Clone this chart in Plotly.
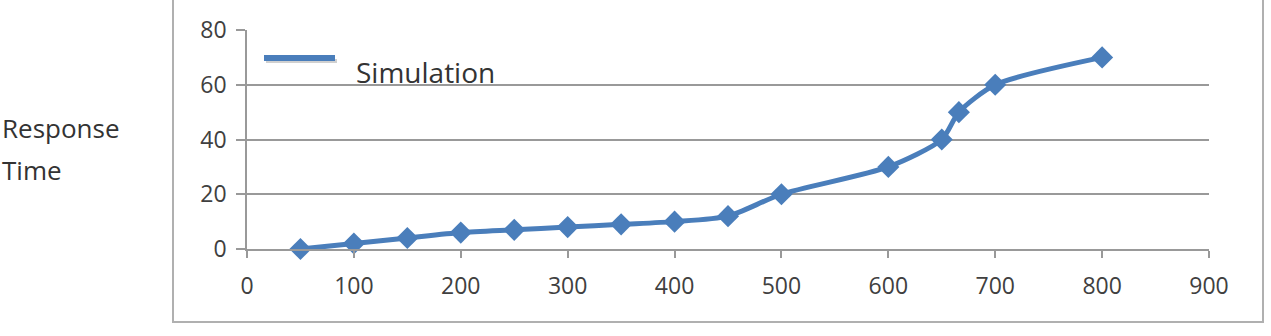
import plotly.graph_objects as go

# Data
load = [50, 100, 150, 200, 250, 300, 350, 400, 450, 500, 600, 650, 666, 700, 800]
response_time = [0, 2, 4, 6, 7, 8, 9, 10, 12, 20, 30, 40, 50, 60, 70]
series_name = "Simulation"
x_ticks = [0, 100, 200, 300, 400, 500, 600, 700, 800, 900]
y_ticks = [0, 20, 40, 60, 80]

BLUE = "#4a7ebb"
GRID = "#999999"
FONT = "Open Sans"

W, H = 1271, 336
L, R, T, B = 247, 62, 30, 87
pw, ph = W - L - R, H - T - B

def px(x):
    return (x - L) / pw

def py(y):
    return (H - B - y) / ph

fig = go.Figure()
fig.add_trace(go.Scatter(
    x=load, y=response_time, name=series_name,
    mode="lines+markers",
    line=dict(color=BLUE, width=5, shape="spline", smoothing=0.7),
    marker=dict(symbol="diamond", size=17, color=BLUE),
    showlegend=False, cliponaxis=False,
))

fig.update_layout(
    width=W, height=H,
    margin=dict(l=L, r=R, t=T, b=B),
    paper_bgcolor="white", plot_bgcolor="white",
    font=dict(family=FONT, color="#404040"),
    xaxis=dict(
        range=[0, 900], tickvals=x_ticks, showgrid=False, zeroline=False,
        showline=True, linecolor=GRID, linewidth=1.5,
        ticks="outside", ticklen=7, tickcolor=GRID, tickwidth=1.5,
        tickfont=dict(size=23, family=FONT, color="#404040"),
        ticklabelstandoff=9,
    ),
    yaxis=dict(
        range=[0, 80], tickvals=y_ticks, showgrid=True, gridcolor=GRID, gridwidth=1.5,
        zeroline=False, showline=True, linecolor=GRID, linewidth=1.5,
        ticks="outside", ticklen=9, tickcolor=GRID, tickwidth=1.5,
        tickfont=dict(size=23, family=FONT, color="#404040"),
        ticklabelstandoff=5,
    ),
    shapes=[
        # outer chart border
        dict(type="rect", xref="paper", yref="paper",
             x0=px(173), x1=px(1263), y0=py(322), y1=py(-10),
             line=dict(color="#b0b0b0", width=2), fillcolor="rgba(0,0,0,0)", layer="below"),
        # legend sample shadow
        dict(type="line", xref="paper", yref="paper",
             x0=px(266), x1=px(337), y0=py(61), y1=py(61),
             line=dict(color="rgba(120,120,120,0.35)", width=4)),
        # legend sample line
        dict(type="line", xref="paper", yref="paper",
             x0=px(264), x1=px(335), y0=py(58), y1=py(58),
             line=dict(color=BLUE, width=6)),
    ],
    annotations=[
        dict(text=series_name, xref="paper", yref="paper", x=px(354), y=py(72),
             xanchor="left", yanchor="middle", showarrow=False,
             font=dict(size=28, family=FONT, color="#333333")),
        dict(text="Response", xref="paper", yref="paper", x=px(0), y=py(128),
             xanchor="left", yanchor="middle", showarrow=False,
             font=dict(size=26, family=FONT, color="#333333")),
        dict(text="Time", xref="paper", yref="paper", x=px(0), y=py(170),
             xanchor="left", yanchor="middle", showarrow=False,
             font=dict(size=26, family=FONT, color="#333333")),
    ],
)

fig.write_html("out.html")
